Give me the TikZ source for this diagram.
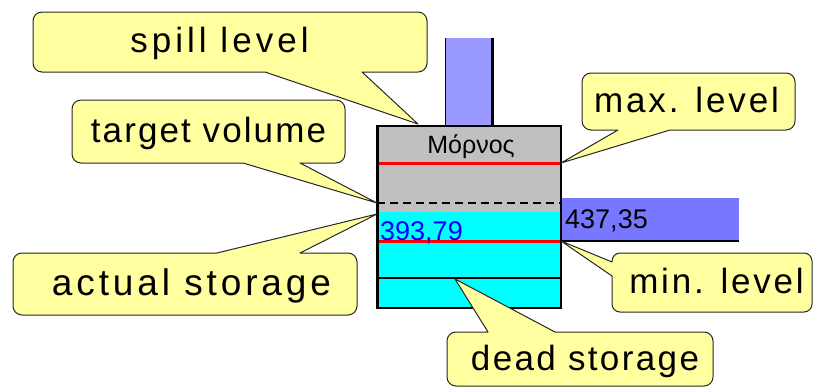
\documentclass[tikz,border=0pt]{standalone}
\usepackage{fontspec}
\setmainfont{Liberation Sans}
\definecolor{noteyellow}{RGB}{255,255,160}
\definecolor{resgray}{RGB}{192,192,192}
\definecolor{rescyan}{RGB}{0,255,255}
\definecolor{pipeblue}{RGB}{153,153,255}
\definecolor{outblue}{RGB}{119,119,255}
\definecolor{levelred}{RGB}{255,0,0}
\tikzset{
  note/.style={fill=noteyellow, draw=black!85, line width=1pt, line join=round},
  notetext/.style 2 args={anchor=base, inner sep=0pt,
    font=\fontsize{#1}{40}\selectfont\addfontfeature{LetterSpace=#2}},
  valtext/.style={anchor=base west, inner sep=0pt, font=\fontsize{27}{30}\selectfont},
}
\begin{document}
\begin{tikzpicture}[x=1pt, y=-1pt]
  \useasboundingbox (0,0) rectangle (818,388);
  % reservoir
  \fill[pipeblue] (445,38) rectangle (493,126);
  \draw[line width=1] (445,38) -- (445,126);
  \draw[line width=3] (492,38) -- (492,126);
  \fill[resgray] (377,126) rectangle (561,212);
  \fill[rescyan] (377,212) rectangle (561,308);
  \fill[outblue] (562,198) rectangle (739,242);
  \draw[line width=2] (562,241) -- (739,241);
  \draw[levelred, line width=3] (377,163) -- (561,163);
  \draw[dash pattern=on 8pt off 5pt, line width=1.2] (377,203) -- (561,203);
  \draw[levelred, line width=3] (377,241) -- (561,241);
  \draw[line width=1.5] (377,278) -- (561,278);
  \draw[line width=1.5] (377,126) rectangle (561,308);
  \draw[line width=3] (377,126) -- (377,308);
  \node[anchor=base, inner sep=0pt, font=\fontsize{25}{28}\selectfont] (name) at (471,153) {Μόρνος};
  \node[valtext, blue] (actualval) at (380,240) {393,79};
  \node[valtext] (outval) at (565,228) {437,35};
  % callout tips
  \coordinate (spilltip) at (418,124);
  \coordinate (targettip) at (377,203);
  \coordinate (actualtip) at (377,214);
  \coordinate (maxtip) at (561,163);
  \coordinate (mintip) at (561,241);
  \coordinate (deadtip) at (455,279);
  % callouts
  \filldraw[note, rounded corners=9] (33,42) -- (33,12) -- (427,12) -- (427,72) [sharp corners] -- (362,72) -- (spilltip) -- (265,72) [rounded corners=9] -- (33,72) -- cycle;
  \filldraw[note, rounded corners=9] (72,130) -- (72,100) -- (345,100) -- (345,163) [sharp corners] -- (300,163) -- (targettip) -- (243,163) [rounded corners=9] -- (72,163) -- cycle;
  \filldraw[note, rounded corners=9] (13,284) -- (13,253) [sharp corners] -- (217,253) -- (actualtip) -- (300,253) [rounded corners=9] -- (357,253) -- (357,315) -- (13,315) -- cycle;
  \filldraw[note, rounded corners=9] (582,100) -- (582,73) -- (795,73) -- (795,130) [sharp corners] -- (670,130) -- (maxtip) -- (618,130) [rounded corners=9] -- (582,130) -- cycle;
  \filldraw[note, rounded corners=8] (712,253) -- (812,253) -- (812,312) -- (612,312) [sharp corners] -- (612,276) -- (mintip) -- (612,262) [rounded corners=8] -- (612,253) -- cycle;
  \filldraw[note, rounded corners=9] (600,332) -- (713,332) -- (713,386) -- (447,386) -- (447,332) [sharp corners] -- (488,332) -- (deadtip) -- (555,332) -- cycle;
  \node[notetext={35}{11.5}] (spill) at (219.5,52) {spill level};
  \node[notetext={35}{6}] (target) at (208.5,142) {target volume};
  \node[notetext={37}{10.5}] (actual) at (191.5,295) {actual storage};
  \node[notetext={35}{8.3}] (maxlevel) at (686.5,112) {max. level};
  \node[notetext={35}{8}] (minlevel) at (716.5,293) {min. level};
  \node[notetext={35}{6.8}] (dead) at (585,370) {dead storage};
\end{tikzpicture}
\end{document}
